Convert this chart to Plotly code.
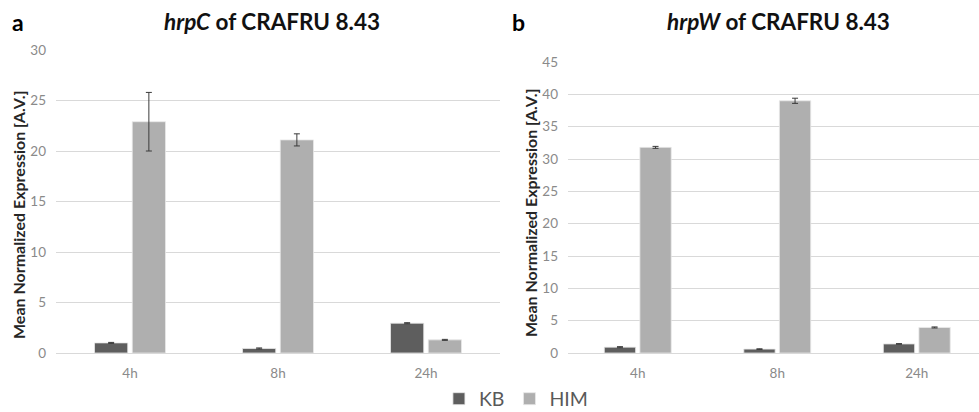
import plotly.graph_objects as go

categories = ["4h", "8h", "24h"]

# Panel a: hrpC
hrpc_kb = [1.0, 0.45, 2.95]
hrpc_kb_err = [0.05, 0.05, 0.05]
hrpc_him = [22.9, 21.1, 1.3]
hrpc_him_err = [2.9, 0.6, 0.05]

# Panel b: hrpW
hrpw_kb = [0.9, 0.6, 1.4]
hrpw_kb_err = [0.08, 0.05, 0.05]
hrpw_him = [31.8, 39.0, 3.95]
hrpw_him_err = [0.15, 0.4, 0.08]

y_ticks_a = [0, 5, 10, 15, 20, 25, 30]
y_ticks_b = [0, 5, 10, 15, 20, 25, 30, 35, 40, 45]

KB_COLOR = "#5e5e5e"
HIM_COLOR = "#afafaf"
ERR_COLOR = "#3a3a3a"
FONT = "Lato"

fig = go.Figure()

def add_bars(x_ax, y_ax, kb, kb_err, him, him_err, show):
    fig.add_trace(go.Bar(
        x=categories, y=kb, name="KB", marker_color=KB_COLOR,
        marker_line=dict(color="#e8e8e8", width=0.8),
        error_y=dict(type="data", array=kb_err, color=ERR_COLOR, thickness=1, width=3),
        xaxis=x_ax, yaxis=y_ax, showlegend=show, legendgroup="KB"))
    fig.add_trace(go.Bar(
        x=categories, y=him, name="HIM", marker_color=HIM_COLOR,
        marker_line=dict(color="#e8e8e8", width=0.8),
        error_y=dict(type="data", array=him_err, color=ERR_COLOR, thickness=1, width=3),
        xaxis=x_ax, yaxis=y_ax, showlegend=show, legendgroup="HIM"))

add_bars("x", "y", hrpc_kb, hrpc_kb_err, hrpc_him, hrpc_him_err, True)
add_bars("x2", "y2", hrpw_kb, hrpw_kb_err, hrpw_him, hrpw_him_err, False)

tickfont = dict(family=FONT, size=13.5, color="#8a8a8a")
common_x = dict(showgrid=False, showline=True, linecolor="#d9d9d9", linewidth=1,
                ticks="", tickfont=tickfont, type="category", zeroline=False,
                ticklabelstandoff=8)
common_y = dict(showgrid=True, gridcolor="#d9d9d9", gridwidth=1, zeroline=False,
                showline=False, tickfont=tickfont, ticks="", ticklabelstandoff=9)

fig.update_layout(
    width=979, height=412,
    margin=dict(l=0, r=0, t=0, b=0, autoexpand=False),
    paper_bgcolor="white", plot_bgcolor="white",
    barmode="group", bargap=0.49, bargroupgap=0.12,
    xaxis=dict(domain=[56/979, 500/979], range=[-0.5, 2.5], anchor="y", **common_x),
    yaxis=dict(domain=[59/412, 362/412], range=[0, 30], tickvals=y_ticks_a, anchor="x", **common_y),
    xaxis2=dict(domain=[568/979, 1.0], range=[-0.5, 2.446], anchor="y2", **common_x),
    yaxis2=dict(domain=[59/412, 350/412], range=[0, 45], tickvals=y_ticks_b, anchor="x2", **common_y),
    legend=dict(orientation="h", x=0.527, xanchor="center", y=13/412, yanchor="middle",
                font=dict(family=FONT, size=19.5, color="#595959"),
                itemwidth=30, traceorder="normal"),
    font=dict(family=FONT),
)

annotations = [
    dict(text="<b><i>hrpC</i> of CRAFRU 8.43</b>", x=272/979, y=22/412, xanchor="center", yanchor="middle",
         font=dict(family=FONT, size=22.5, color="#111111")),
    dict(text="<b><i>hrpW</i> of CRAFRU 8.43</b>", x=778/979, y=22/412, xanchor="center", yanchor="middle",
         font=dict(family=FONT, size=22.5, color="#111111")),
    dict(text="<b>a</b>", x=18/979, y=22/412, xanchor="center", yanchor="middle",
         font=dict(family=FONT, size=23, color="#000000")),
    dict(text="<b>b</b>", x=518/979, y=22/412, xanchor="center", yanchor="middle",
         font=dict(family=FONT, size=23, color="#000000")),
    dict(text="<b>Mean Normalized Expression [A.V.]</b>", x=18/979, y=215/412, textangle=-90,
         xanchor="center", yanchor="middle", font=dict(family=FONT, size=16, color="#262626")),
    dict(text="<b>Mean Normalized Expression [A.V.]</b>", x=530/979, y=213/412, textangle=-90,
         xanchor="center", yanchor="middle", font=dict(family=FONT, size=16, color="#262626")),
]
for a in annotations:
    a["xref"] = "paper"
    a["yref"] = "paper"
    a["y"] = 1 - a["y"]
    a["showarrow"] = False
fig.update_layout(annotations=annotations)

fig.write_html("out.html")
